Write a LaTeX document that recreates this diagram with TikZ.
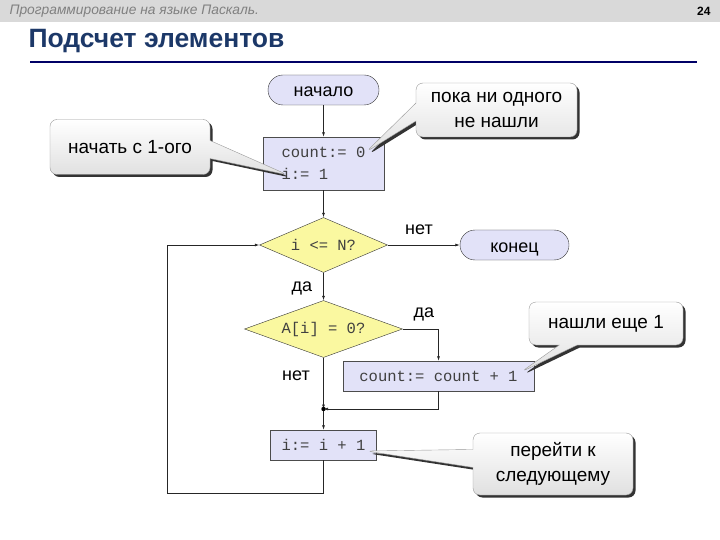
\documentclass[tikz,border=0pt]{standalone}
\usepackage{fontspec}
\setmainfont{Liberation Sans}
\setmonofont{Liberation Mono}
\usepackage{xcolor}
\definecolor{boxfill}{RGB}{226,226,248}
\definecolor{condfill}{RGB}{250,248,160}
\definecolor{titleblue}{RGB}{28,56,104}
\definecolor{rulenavy}{RGB}{0,0,102}
\usetikzlibrary{shapes.geometric}
\usetikzlibrary{shapes.callouts}
\usetikzlibrary{shadows}
\usetikzlibrary{arrows.meta}
\usetikzlibrary{positioning}

\begin{document}
\begin{tikzpicture}[x=1pt,y=-1pt,
	term/.style={draw=black!80, fill=boxfill, rounded corners=15pt, minimum width=111pt, minimum height=30pt, inner sep=0pt, text height=14pt, text depth=0pt, font=\fontsize{18}{20}\selectfont},
	proc/.style={draw=black!70, fill=boxfill, minimum height=30pt, inner sep=0pt, align=left, font=\fontsize{15.5}{22}\ttfamily\selectfont, text=black!75},
	cond/.style={diamond, draw=black!80, fill=condfill, inner sep=0pt, font=\fontsize{15.5}{18}\ttfamily\selectfont, text=black!75},
	conn/.style={draw=black!85, line width=0.7pt, -{Latex[length=4.5pt,width=3pt]}},
	lbl/.style={anchor=base, font=\fontsize{18}{20}\selectfont},
	note/.style={rectangle callout, rounded corners=7pt, callout pointer width=18pt, draw=black!40, top color=white, bottom color=black!12, align=center, font=\fontsize{19}{25}\selectfont, drop shadow={shadow xshift=2.5pt, shadow yshift=-2.5pt, fill=black!80, opacity=1}}
	]
	\useasboundingbox (0,0) rectangle (720,540);
	
	%header & title
	\fill[black!15] (0,0) rectangle (720,22);
	\node[anchor=west, text=black!50, font=\fontsize{13.8}{15}\itshape\selectfont] (hdr) at (6,11) {Программирование на языке Паскаль.};
	\node[anchor=east, font=\fontsize{12}{14}\bfseries\selectfont] (pageno) at (714,11) {24};
	\node[anchor=west, text=titleblue, font=\fontsize{26.5}{30}\bfseries\selectfont] (title) at (25,41) {Подсчет элементов};
	\draw[rulenavy, line width=2.5pt] (30,62) -- (697,62);
	
	%blocks
	\node[term] (start) at (323.5,90) {начало};
	\node[proc, minimum width=121pt, minimum height=53pt] (init) at (323.5,163.5) {count:= 0\\i:= 1};
	\node[cond, minimum width=128pt, minimum height=55pt, aspect=2.3] (cond1) at (323.5,245) {i <= N?};
	\node[term, minimum width=109pt] (stop) at (514.5,245) {конец};
	\node[cond, minimum width=158pt, minimum height=57pt, aspect=2.8] (cond2) at (323.5,329) {A[i] = 0?};
	\node[proc, minimum width=191pt] (inc) at (438.5,376) {count:= count + 1};
	\node[proc, minimum width=106pt] (step) at (323.5,445) {i:= i + 1};
	\coordinate (join) at (323.5,409);
	\coordinate (back) at (167,493);
	
	%connectors
	\draw[conn] (start) -- (init);
	\draw[conn] (init) -- (cond1);
	\draw[conn] (cond1.east) -- (stop.west);
	\draw[conn] (cond1.south) -- (cond2.north);
	\draw[conn] (cond2.east) -| (inc.north);
	\draw[conn] (cond2.south) -- (join);
	\draw[conn] (inc.south) |- (join);
	\draw[conn] (join) -- (step.north);
	\draw[conn] (step.south) |- (back) |- (cond1.west);
	\fill (join) circle (2.2pt);
	
	%labels
	\node[lbl] (no1) at (419,234) {нет};
	\node[lbl] (yes1) at (302,291) {да};
	\node[lbl] (yes2) at (424,317) {да};
	\node[lbl] (no2) at (296,380) {нет};
	
	%comments
	\coordinate (ptrA) at (288,175);
	\coordinate (ptrB) at (366,152);
	\coordinate (ptrC) at (521,372);
	\coordinate (ptrD) at (366,451);
	\node[note, minimum width=160pt, minimum height=55pt, callout absolute pointer={(ptrA)}] (noteA) at (130,147) {начать с 1-ого};
	\node[note, minimum width=161pt, minimum height=54pt, callout absolute pointer={(ptrB)}] (noteB) at (496.5,110) {пока ни одного\\не нашли};
	\node[note, minimum width=154pt, minimum height=43pt, callout absolute pointer={(ptrC)}] (noteC) at (606,323.5) {нашли еще 1};
	\node[note, minimum width=160pt, minimum height=62pt, callout absolute pointer={(ptrD)}] (noteD) at (553,464) {перейти к\\следующему};
\end{tikzpicture}
\end{document}
